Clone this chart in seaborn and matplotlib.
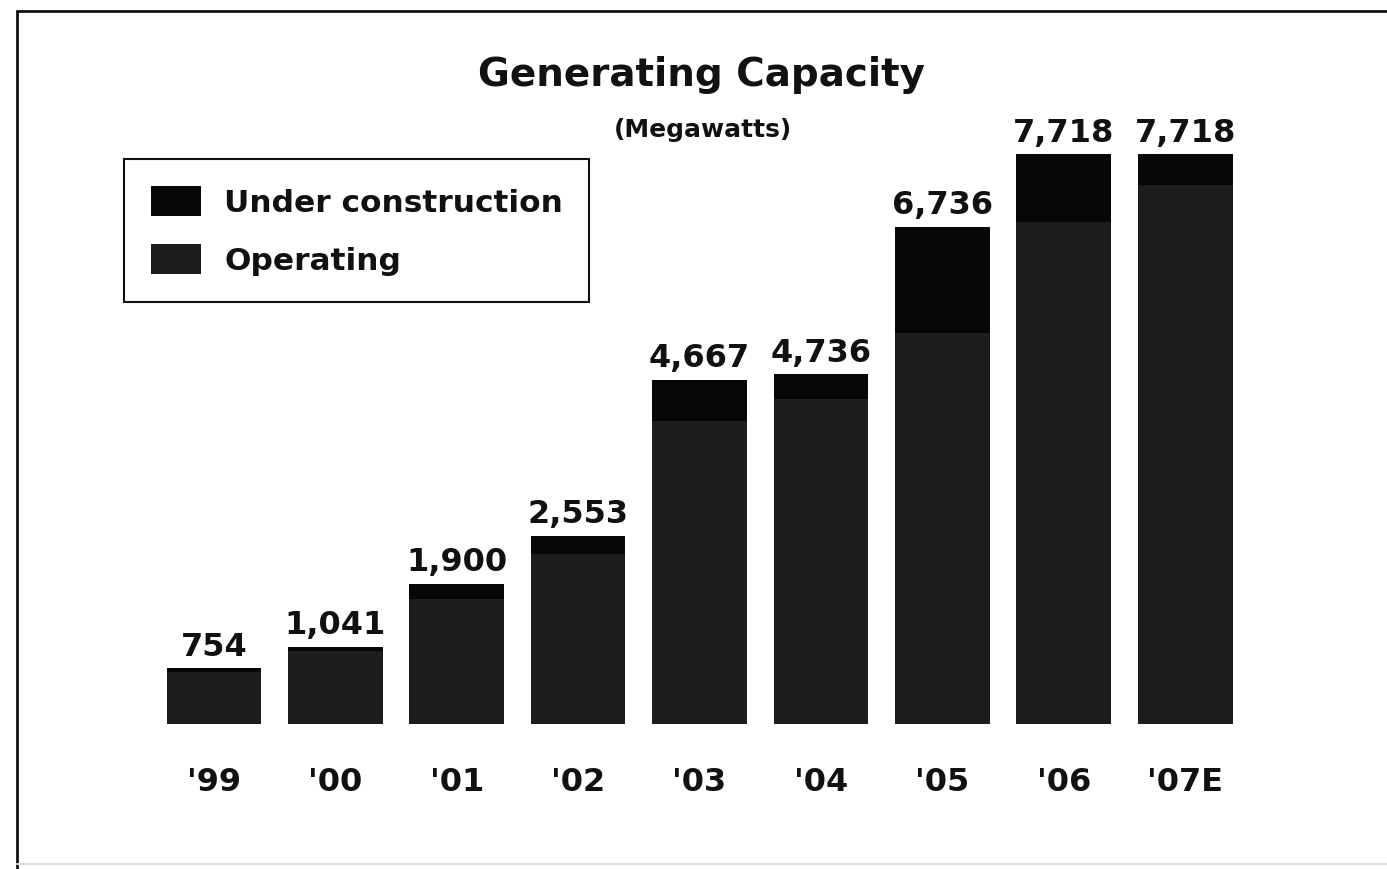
import matplotlib
matplotlib.use("Agg")
import matplotlib.pyplot as plt
import seaborn as sns
import pandas as pd
from matplotlib.lines import Line2D

# data (MW)
years = ["'99", "'00", "'01", "'02", "'03", "'04", "'05", "'06", "'07E"]
total = [754, 1041, 1900, 2553, 4667, 4736, 6736, 7718, 7718]
operating = [700, 990, 1700, 2300, 4100, 4400, 5300, 6800, 7300]

sns.set_theme(style="white")
plt.rcParams['font.family'] = ['DejaVu Sans']
plt.rcParams['text.color'] = '#111111'

df = pd.DataFrame({'Year': years, 'Total': total, 'Operating': operating})

fig = plt.figure(figsize=(13.87, 8.70), dpi=100)
ax = fig.add_axes([0.1017, 0.1667, 0.8053, 0.7126])

sns.barplot(data=df, x='Year', y='Total', color='#070707', saturation=1,
            width=0.78, linewidth=0, label='Under construction', ax=ax)
sns.barplot(data=df, x='Year', y='Operating', color='#1d1d1d', saturation=1,
            width=0.78, linewidth=0, label='Operating', ax=ax)

ax.set_xlim(-0.6, 8.6)
ax.set_ylim(0, 8400)
ax.set(xlabel='', ylabel='', yticks=[])
sns.despine(ax=ax, left=True, bottom=True)
ax.tick_params(axis='x', length=0, pad=30, labelsize=23, labelcolor='#111111')
for lab in ax.get_xticklabels():
    lab.set_fontweight('bold')

for i, v in enumerate(total):
    ax.text(i, v + 90, f"{v:,}", ha='center', va='bottom', fontsize=23,
            fontweight='bold', color='#111111')

ax.legend(loc='upper left', bbox_to_anchor=(124 / 1387, 1 - 160 / 870),
          bbox_transform=fig.transFigure, frameon=True,
          fancybox=False, edgecolor='#111111', framealpha=1,
          handlelength=1.6, handleheight=1.1, handletextpad=0.75,
          labelspacing=0.85, borderpad=0.85, borderaxespad=0,
          prop={'weight': 'bold', 'size': 22.5})
ax.get_legend().get_frame().set_linewidth(1.5)

fig.text(702 / 1387, 1 - 75 / 870, "Generating Capacity", ha='center',
         va='center', fontsize=28, fontweight='bold', color='#111111')
fig.text(703 / 1387, 1 - 130 / 870, "(Megawatts)", ha='center',
         va='center', fontsize=18, fontweight='bold', color='#111111')

# outer frame
fig.add_artist(Line2D([17 / 1387, 17 / 1387], [0, 1 - 12 / 870],
                      transform=fig.transFigure, color='#111111', lw=2))
fig.add_artist(Line2D([17 / 1387, 1], [1 - 12 / 870, 1 - 12 / 870],
                      transform=fig.transFigure, color='#111111', lw=2))
fig.add_artist(Line2D([17 / 1387, 1], [5 / 870, 5 / 870],
                      transform=fig.transFigure, color='#dddddd', lw=1.5))

fig.savefig('out.png', dpi=100, facecolor='white')
